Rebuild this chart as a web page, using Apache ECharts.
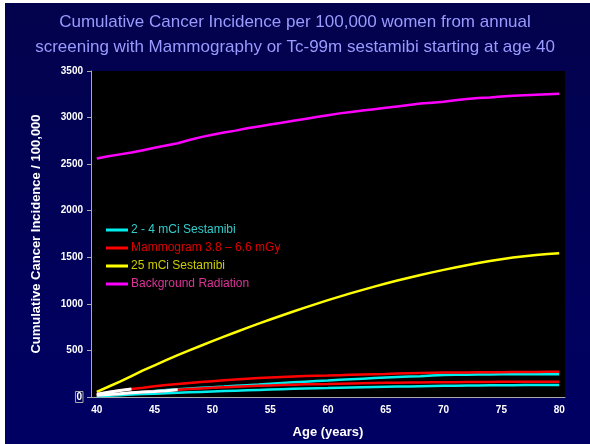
<!DOCTYPE html>
<html>
<head>
<meta charset="utf-8">
<script src="https://cdn.jsdelivr.net/npm/echarts@6/dist/echarts.min.js"></script>
<style>html,body{margin:0;padding:0;background:#fff;}#c{width:590px;height:444px;}</style>
</head>
<body>
<div id="c"></div>
<script>
const ages = [];
for (let a = 40; a <= 80; a++) ages.push(String(a));
const yTicks = [0, 500, 1000, 1500, 2000, 2500, 3000, 3500];

const background = [2560,2585,2605,2625,2650,2675,2700,2725,2760,2790,2815,2840,2860,2885,2905,2925,2945,2965,2985,3005,3025,3045,3060,3075,3090,3105,3120,3135,3150,3160,3170,3185,3200,3210,3215,3225,3235,3240,3245,3250,3255];
const sesta25 = [55,110,165,225,285,340,395,450,500,550,600,648,695,742,788,832,875,918,960,1000,1040,1078,1115,1150,1185,1218,1250,1280,1310,1338,1365,1390,1415,1438,1460,1480,1497,1512,1525,1535,1543];
const mammoHigh = [30,50,70,87,100,115,128,140,150,160,170,180,188,196,203,210,215,220,225,228,230,234,238,242,245,248,252,256,258,260,262,263,264,265,266,267,268,268,269,270,270];
const mammoLow = [20,28,36,45,53,60,68,77,85,92,98,104,110,115,120,124,128,132,136,138,140,143,146,148,150,152,154,156,157,158,158,159,160,161,162,163,163,164,164,165,165];
const sestaHigh = [15,25,35,45,55,65,75,83,91,98,105,112,120,127,134,142,150,158,165,172,178,185,191,197,203,209,214,219,224,230,236,239,240,241,242,243,243,244,244,245,245];
const sestaLow = [8,14,20,26,31,36,41,45,50,55,60,64,68,72,76,80,84,88,91,94,96,99,102,105,108,110,112,114,116,118,120,122,123,124,125,126,127,128,129,130,130];
// white overlay segments seen at the start of the mammogram curves
const whiteHigh = mammoHigh.map((v, i) => i <= 3 ? v : null);
const whiteLow = mammoLow.map((v, i) => i <= 7 ? v : null);

const names = ['2 - 4 mCi Sestamibi', 'Mammogram 3.8 \u2013 6.6 mGy', '25 mCi Sestamibi', 'Background Radiation'];

const chart = echarts.init(document.getElementById('c'), null, {renderer: 'canvas'});
function line(name, data, color, z, w) {
  return {name, type: 'line', data, symbol: 'none', smooth: false, connectNulls: false,
    lineStyle: {color, width: w || 2.5}, itemStyle: {color}, z: z || 2, animation: false};
}
chart.setOption({
  animation: false,
  backgroundColor: {type: 'linear', x: 0, y: 0, x2: 0, y2: 1,
    colorStops: [{offset: 0, color: '#02024c'}, {offset: 1, color: '#000064'}]},
  title: {
    text: 'Cumulative Cancer Incidence per 100,000 women from annual\nscreening with Mammography or Tc-99m sestamibi starting at age 40',
    left: 'center', top: 5,
    textStyle: {color: '#9a9aff', fontFamily: 'Liberation Sans, Arial', fontSize: 17, fontWeight: 'normal', lineHeight: 25}
  },
  graphic: [
    {type: 'rect', shape: {x: 0, y: 0, width: 5, height: 444}, style: {fill: '#ffffff'}, z: 100},
    {type: 'rect', shape: {x: 0, y: 0, width: 590, height: 3}, style: {fill: '#ffffff'}, z: 100}
  ],
  legend: {
    orient: 'vertical', left: 101, top: 219, itemGap: 6, itemWidth: 22, itemHeight: 3,
    icon: 'rect',
    textStyle: {fontFamily: 'Liberation Sans, Arial', fontSize: 12, padding: [0, 0, 0, -2]},
    data: [
      {name: names[0], textStyle: {color: '#33cccc'}},
      {name: names[1], textStyle: {color: '#dd0000'}},
      {name: names[2], textStyle: {color: '#cccc00'}},
      {name: names[3], textStyle: {color: '#dd3399'}}
    ]
  },
  grid: {left: 91, top: 71, right: 25, bottom: 43, show: true, backgroundColor: '#000000', borderWidth: 0},
  xAxis: {
    type: 'category', data: ages, boundaryGap: true,
    name: 'Age (years)', nameLocation: 'middle', nameGap: 29,
    nameTextStyle: {color: '#ffffff', fontFamily: 'Liberation Sans, Arial', fontSize: 13, fontWeight: 'bold'},
    axisLine: {lineStyle: {color: '#aaaaaa', width: 1}},
    axisTick: {interval: 0, length: 4, lineStyle: {color: '#aaaaaa'}},
    axisLabel: {interval: 4, color: '#ffffff', fontFamily: 'Liberation Sans, Arial', fontSize: 10, fontWeight: 'bold', margin: 8},
    splitLine: {show: false}
  },
  yAxis: {
    type: 'value', min: yTicks[0], max: yTicks[yTicks.length - 1], interval: 500,
    name: 'Cumulative Cancer Incidence / 100,000', nameLocation: 'middle', nameGap: 48,
    nameTextStyle: {color: '#ffffff', fontFamily: 'Liberation Sans, Arial', fontSize: 13, fontWeight: 'bold'},
    axisLine: {show: true, lineStyle: {color: '#aaaaaa', width: 1}},
    axisTick: {show: true, length: 4, lineStyle: {color: '#aaaaaa'}},
    axisLabel: {color: '#ffffff', fontFamily: 'Liberation Sans, Arial', fontSize: 10, fontWeight: 'bold', margin: 8,
      formatter: v => v === 0 ? '{z|0}' : String(v),
      rich: {z: {color: '#ffffff', fontSize: 10, fontWeight: 'bold', fontFamily: 'Liberation Sans, Arial', borderColor: '#aaaaaa', borderWidth: 1, padding: [1, 1, 0, 1]}}},
    splitLine: {show: false}
  },
  series: [
    line(names[3], background, '#ff00ff'),
    line(names[2], sesta25, '#ffff00'),
    line(names[0], sestaLow, '#00eeee'),
    line(names[0], sestaHigh, '#00eeee'),
    line(names[1], mammoLow, '#ff0000', 3),
    line(names[1], mammoHigh, '#ff0000', 3),
    line('', whiteLow, '#ffffff', 4, 3),
    line('', whiteHigh, '#ffffff', 4, 3)
  ]
});
</script>
</body>
</html>
